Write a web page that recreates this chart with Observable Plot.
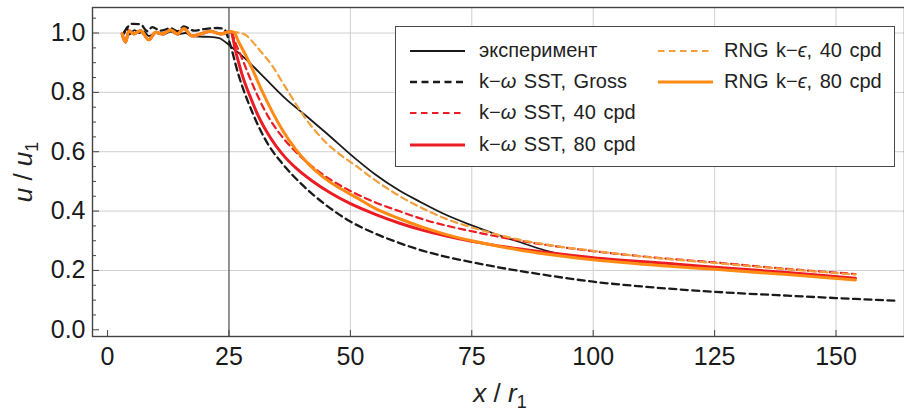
<!DOCTYPE html>
<html><head><meta charset="utf-8">
<script src="https://cdn.jsdelivr.net/npm/d3@7"></script>
<script src="https://cdn.jsdelivr.net/npm/@observablehq/plot@0.6"></script>
<style>
body{margin:0;background:#fff;font-family:"Liberation Sans",Arial,sans-serif;}
#wrap{position:relative;width:904px;height:414px;overflow:hidden;}
#chart{position:absolute;left:0;top:0;width:912px;}
.legend{position:absolute;left:395px;top:26px;width:500px;height:141px;box-sizing:border-box;border:1.5px solid #4a4a4a;background:#fff;}
.item{position:absolute;font-size:20px;line-height:20px;color:#222;white-space:nowrap;word-spacing:2px;}
.sw{position:absolute;}
.atitle{position:absolute;font-size:26px;line-height:26px;color:#222;white-space:nowrap;}
.atitle sub{font-size:18px;vertical-align:-6px;line-height:0;}
</style>
</head><body>
<div id="wrap">
  <div id="chart"></div>
  <div class="atitle" id="ytitle" style="left:23px;top:172px;transform:translate(-50%,-50%) rotate(-90deg);"><i>u</i> / <i>u</i><sub>1</sub></div>
  <div class="atitle" id="xtitle" style="left:500px;top:380px;transform:translateX(-50%);"><i>x</i> / <i>r</i><sub>1</sub></div>
  <div class="legend" id="legend"></div>
</div>
<script>
// ---- tick values ----
const xTicks = [0, 25, 50, 75, 100, 125, 150];
const yTicks = [0, 0.2, 0.4, 0.6, 0.8, 1.0];
const yMinorTicks = [0.05, 0.1, 0.15, 0.25, 0.3, 0.35, 0.45, 0.5, 0.55, 0.65, 0.7, 0.75, 0.85, 0.9, 0.95, 1.05];
const xGrid = [50, 75, 100, 125, 150];
const yGrid = [0.2, 0.4, 0.6, 0.8, 1.0];
const nozzleExit = [25];

// ---- series ----
const inletX = [3.0, 3.7, 4.4, 5.4, 6.8, 8.5, 9.9, 11.3, 13.0, 14.4, 15.7, 17.4, 19.2, 21.2, 23.3, 25.3];
const inletY = [0.997, 0.969, 1.008, 0.997, 1.008, 0.977, 1.003, 0.997, 1.01, 0.997, 1.015, 0.99, 0.997, 1.006, 0.997, 1.005];

const expX = [3, 3.5, 4, 4.5, 5.5, 6.5, 7.5, 8.5, 10, 11.5, 13, 14.5, 16, 17.5, 19, 21, 23, 24.3, 26.4, 28.4, 32.5, 36.7, 40.8, 44.9, 51.1, 55, 60, 64.5, 70, 75, 80, 85, 90, 95, 100];
const expY = [0.99, 1.0, 1.02, 0.995, 1.01, 1.0, 1.005, 0.99, 1.0, 0.995, 1.005, 0.995, 1.0, 0.99, 0.988, 0.987, 0.983, 0.969, 0.941, 0.913, 0.846, 0.778, 0.722, 0.665, 0.576, 0.525, 0.47, 0.43, 0.385, 0.352, 0.322, 0.295, 0.268, 0.25, 0.243];

const grossX = [3.4, 5.1, 6.8, 8.2, 9.2, 10.9, 13.0, 14.4, 15.7, 17.8, 19.8, 22.6, 24.0, 25.1, 27.0, 29.8, 33.2, 36, 40, 45, 50, 55, 60, 65, 70, 75, 80, 90, 100, 110, 125, 140, 150, 162];
const grossY = [1.003, 1.031, 1.029, 1.006, 1.02, 1.008, 1.016, 1.006, 1.022, 1.008, 1.013, 1.017, 1.013, 0.969, 0.857, 0.733, 0.621, 0.56, 0.49, 0.42, 0.365, 0.325, 0.293, 0.266, 0.245, 0.228, 0.212, 0.185, 0.162, 0.146, 0.128, 0.115, 0.107, 0.098];

const sst40X = [...inletX, 26.5, 27.8, 29.1, 31.0, 33.2, 35.5, 38.0, 42.0, 46.0, 50, 55, 60, 65, 70, 75, 85, 100, 115, 125, 140, 154];
const sst40Y = [...inletY, 0.96, 0.91, 0.857, 0.785, 0.715, 0.66, 0.612, 0.552, 0.505, 0.468, 0.43, 0.4, 0.372, 0.35, 0.332, 0.3, 0.265, 0.24, 0.227, 0.205, 0.188];

const sst80X = [...inletX, 26.5, 27.7, 29.5, 31.2, 33.5, 36.0, 39.0, 42.0, 46.0, 50, 55, 60, 65, 70, 75, 85, 100, 115, 125, 140, 154];
const sst80Y = [...inletY, 0.93, 0.86, 0.78, 0.715, 0.648, 0.592, 0.542, 0.503, 0.46, 0.425, 0.39, 0.36, 0.335, 0.315, 0.298, 0.272, 0.243, 0.224, 0.211, 0.193, 0.174];

const rng40X = [...inletX, 26.1, 27.5, 28.7, 30.5, 32.2, 33.9, 35.6, 37.3, 39.0, 40.8, 42.8, 44.9, 47.5, 51.1, 55, 60, 65, 70, 75, 80, 85, 90, 100, 110, 125, 140, 154];
const rng40Y = [...inletY, 1.003, 1.0, 0.99, 0.958, 0.925, 0.89, 0.845, 0.80, 0.755, 0.711, 0.67, 0.632, 0.595, 0.553, 0.505, 0.452, 0.408, 0.372, 0.345, 0.322, 0.303, 0.288, 0.266, 0.247, 0.225, 0.204, 0.186];

const rng80X = [...inletX, 26.0, 27.0, 28.3, 29.8, 31.8, 33.9, 36.2, 38.7, 41.3, 44.2, 47.5, 51, 55, 60, 65, 70, 75, 85, 100, 115, 125, 140, 154];
const rng80Y = [...inletY, 1.003, 0.97, 0.93, 0.879, 0.805, 0.735, 0.668, 0.609, 0.56, 0.517, 0.48, 0.448, 0.41, 0.375, 0.345, 0.32, 0.30, 0.268, 0.236, 0.215, 0.204, 0.186, 0.168];

const seriesNames = ["эксперимент", "k−ω SST, Gross", "k−ω SST, 40 cpd", "k−ω SST, 80 cpd", "RNG k−ϵ, 40 cpd", "RNG k−ϵ, 80 cpd"];

// ---- styles ----
const styles = [
  {xs: expX, ys: expY, stroke: "#1a1a1a", width: 1.8, dash: null},
  {xs: grossX, ys: grossY, stroke: "#1a1a1a", width: 2.3, dash: "7,4.5"},
  {xs: sst40X, ys: sst40Y, stroke: "#ec1c24", width: 2.2, dash: "6.5,4.5"},
  {xs: sst80X, ys: sst80Y, stroke: "#ec1c24", width: 3, dash: null},
  {xs: rng40X, ys: rng40Y, stroke: "#f3a03c", width: 2.2, dash: "6.5,4.5"},
  {xs: rng80X, ys: rng80Y, stroke: "#ff8a14", width: 3, dash: null}
];

const W = 912, H = 414, mL = 92, mR = 8, mT = 7, mB = 78;
const plotW = W - mL - mR, plotH = H - mT - mB;

const lineMarks = styles.map((s, k) => {
  const rows = s.xs.map((x, i) => ({series: seriesNames[k], x, y: s.ys[i]}));
  return Plot.line(rows, {x: "x", y: "y", stroke: s.stroke, strokeWidth: s.width,
    strokeDasharray: s.dash || undefined, curve: "monotone-x"});
});

const chart = Plot.plot({
  width: W, height: H,
  marginLeft: mL, marginRight: mR, marginTop: mT, marginBottom: mB,
  style: {fontSize: "25px", fontFamily: '"Liberation Sans", Arial, sans-serif', color: "#1a1a1a", background: "transparent", overflow: "visible", maxWidth: "none"},
  x: {domain: [-3.1, 164.1], ticks: xTicks, tickFormat: d => String(d), tickSize: 0, tickPadding: 11, label: null},
  y: {domain: [-0.0226, 1.086], ticks: yTicks, tickFormat: d3.format(".1f"), tickSize: 0, tickPadding: 7, label: null},
  marks: [
    Plot.ruleX(xGrid, {x: d => d, stroke: "#cfcfcf", strokeWidth: 1}),
    Plot.ruleY(yGrid, {y: d => d, stroke: "#cfcfcf", strokeWidth: 1}),
    Plot.ruleX(nozzleExit, {x: d => d, stroke: "#6e6e6e", strokeWidth: 1.5}),
    ...lineMarks,
    Plot.tickY(yMinorTicks, {y: d => d, stroke: "#444", strokeWidth: 1, insetRight: plotW - 4}),
    Plot.tickY(yTicks, {y: d => d, stroke: "#444", strokeWidth: 1, insetRight: plotW - 7}),
    Plot.tickX(xTicks, {x: d => d, stroke: "#444", strokeWidth: 1, insetTop: plotH - 6}),
    Plot.frame({stroke: "#444", strokeWidth: 1.4})
  ]
});
chart.style.maxWidth = "none";
document.getElementById("chart").appendChild(chart);

// ---- legend ----
const legendPos = [
  {sx: 14, tx: 83, cy: 24},
  {sx: 14, tx: 83, cy: 55},
  {sx: 14, tx: 83, cy: 86},
  {sx: 14, tx: 83, cy: 118},
  {sx: 262, tx: 328, cy: 24},
  {sx: 262, tx: 328, cy: 55}
];
const legend = document.getElementById("legend");
const esc = s => s.replace(/ω/g, "<i>ω</i>").replace(/ϵ/g, "<i>ϵ</i>");
styles.forEach((s, k) => {
  const p = legendPos[k];
  const svg = `<svg class="sw" width="56" height="10" style="left:${p.sx}px;top:${p.cy - 5}px"><line x1="0" x2="55" y1="5" y2="5" stroke="${s.stroke}" stroke-width="${s.width}" ${s.dash ? `stroke-dasharray="${s.dash}"` : ""}/></svg>`;
  legend.insertAdjacentHTML("beforeend", svg);
  legend.insertAdjacentHTML("beforeend", `<div class="item" style="left:${p.tx}px;top:${p.cy - 11}px">${esc(seriesNames[k])}</div>`);
});
</script>
</body></html>
